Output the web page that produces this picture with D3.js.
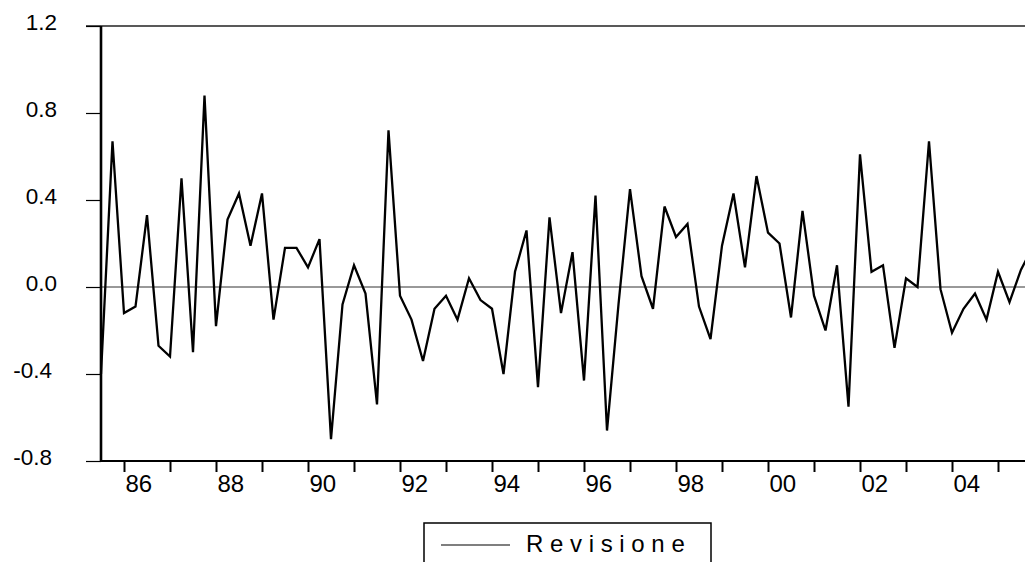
<!DOCTYPE html>
<html>
<head>
<meta charset="utf-8">
<script src="https://cdn.jsdelivr.net/npm/d3@7"></script>
<style>
  body { margin: 0; background: #fff; }
  text { font-family: "Liberation Sans", Arial, sans-serif; fill: #000; }
</style>
</head>
<body>
<div id="chart"></div>
<script>
// quarterly revisions, first obs 1985Q3
var startYear = 1985;
var startQuarter = 3;
var revisione = [
  -0.40, 0.67, -0.12, -0.09, 0.33, -0.27, -0.32, 0.50, -0.30, 0.88,
  -0.18, 0.31, 0.43, 0.19, 0.43, -0.15, 0.18, 0.18, 0.09, 0.22,
  -0.70, -0.08, 0.10, -0.03, -0.54, 0.72, -0.04, -0.15, -0.34, -0.10,
  -0.04, -0.15, 0.04, -0.06, -0.10, -0.40, 0.07, 0.26, -0.46, 0.32,
  -0.12, 0.16, -0.43, 0.42, -0.66, -0.08, 0.45, 0.05, -0.10, 0.37,
  0.23, 0.29, -0.09, -0.24, 0.19, 0.43, 0.09, 0.51, 0.25, 0.20,
  -0.14, 0.35, -0.04, -0.20, 0.10, -0.55, 0.61, 0.07, 0.10, -0.28,
  0.04, 0.00, 0.67, -0.01, -0.21, -0.10, -0.03, -0.15, 0.07, -0.07,
  0.08, 0.18
];
var yTicks = [-0.8, -0.4, 0.0, 0.4, 0.8, 1.2];
var xYears = d3.range(1986, 2006);
var seriesName = "R e v i s i o n e";

var svgWidth = 1025;
var svgHeight = 562;
// note: "top" clashes with window.top, so use other names
var plotLeft = 101, plotTop = 26, plotBottom = 461;

var svg = d3.select("#chart")
  .append("svg")
  .attr("width", svgWidth)
  .attr("height", svgHeight);

var data = revisione.map(function(v, i) {
  return { t: startYear + (startQuarter - 1) / 4 + i / 4, v: v };
});

var x = d3.scaleLinear()
  .domain([1985.5, 2005.75])
  .range([plotLeft, plotLeft + 20.25 * 46]);

var y = d3.scaleLinear()
  .domain([-0.8, 1.2])
  .range([plotBottom, plotTop]);

// top frame line
svg.append("line")
  .attr("x1", 86).attr("x2", svgWidth)
  .attr("y1", y(1.2)).attr("y2", y(1.2))
  .attr("stroke", "#222").attr("stroke-width", 1.6);

// zero line
svg.append("line")
  .attr("x1", plotLeft).attr("x2", svgWidth)
  .attr("y1", y(0)).attr("y2", y(0))
  .attr("stroke", "#333").attr("stroke-width", 1);

// y axis (plain hyphen for negatives, like the original)
var fmt = d3.format(".1f");
var yAxis = svg.append("g")
  .attr("transform", "translate(" + plotLeft + ",0)")
  .call(d3.axisLeft(y).tickValues(yTicks).tickSize(15).tickPadding(0)
    .tickFormat(function(d) { return fmt(d).replace("\u2212", "-"); }));
yAxis.select(".domain").remove();
yAxis.selectAll("line").attr("stroke", "#000").attr("stroke-width", 1.2);
yAxis.selectAll("text")
  .attr("x", function(d) { return d < 0 ? -49 : -44; })
  .attr("y", 3)
  .attr("dy", 0)
  .attr("text-anchor", "end")
  .style("font-size", "22.5px");

// x axis
var xAxis = svg.append("g")
  .attr("transform", "translate(0," + plotBottom + ")")
  .call(d3.axisBottom(x).tickValues(xYears).tickSize(11)
    .tickFormat(function(d) { return d % 2 === 0 ? String(d).slice(2) : ""; }));
xAxis.select(".domain").remove();
xAxis.selectAll("line").attr("stroke", "#000").attr("stroke-width", 2);
xAxis.selectAll("text")
  .attr("y", 31)
  .attr("dy", 0)
  .attr("x", 1)
  .attr("text-anchor", "start")
  .style("font-size", "24px");

// axis lines
svg.append("line")
  .attr("x1", plotLeft).attr("x2", svgWidth)
  .attr("y1", plotBottom).attr("y2", plotBottom)
  .attr("stroke", "#000").attr("stroke-width", 2.2);
svg.append("line")
  .attr("x1", plotLeft).attr("x2", plotLeft)
  .attr("y1", plotTop).attr("y2", plotBottom + 1)
  .attr("stroke", "#000").attr("stroke-width", 2.6);

// series line
var line = d3.line()
  .x(function(d) { return x(d.t); })
  .y(function(d) { return y(d.v); });

svg.append("path")
  .datum(data)
  .attr("fill", "none")
  .attr("stroke", "#000")
  .attr("stroke-width", 2.3)
  .attr("stroke-linejoin", "miter")
  .attr("d", line);

// legend
var legend = svg.append("g");
legend.append("rect")
  .attr("x", 424).attr("y", 523)
  .attr("width", 287).attr("height", 60)
  .attr("fill", "#fff")
  .attr("stroke", "#000").attr("stroke-width", 1.5);
legend.append("line")
  .attr("x1", 441).attr("x2", 510)
  .attr("y1", 545).attr("y2", 545)
  .attr("stroke", "#000").attr("stroke-width", 1.2);
legend.append("text")
  .attr("x", 526).attr("y", 552)
  .style("font-size", "24px")
  .text(seriesName);
</script>
</body>
</html>
